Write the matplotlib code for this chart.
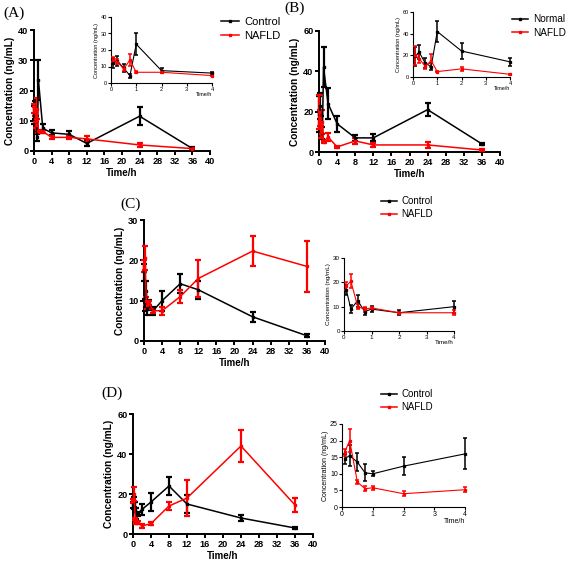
import matplotlib
matplotlib.use("Agg")
import matplotlib.pyplot as plt
from matplotlib.lines import Line2D
import numpy as np

# ---------------- data ----------------
time_h = [0.083, 0.25, 0.5, 0.75, 1, 2, 4, 8, 12, 24, 36]

a_control = [12, 13.5, 9, 4.5, 23.5, 7.5, 6, 5.5, 2.5, 11.5, 0.8]
a_control_sd = [3, 3, 2.5, 1.2, 6.5, 1.5, 0.8, 1, 1, 3, 0.4]
a_nafld = [14, 13, 8.5, 14, 6.5, 6.5, 4.5, 4.5, 4, 2, 0.8]
a_nafld_sd = [1.5, 1.5, 1, 3.5, 0.6, 0.5, 0.5, 0.6, 1, 0.6, 0.3]

b_normal = [19, 23, 13, 9.5, 42, 24, 14, 7, 7, 21, 4]
b_normal_sd = [9, 6.5, 5, 3, 10, 7.5, 4, 1.5, 1.7, 3.3, 0.4]
b_nafld = [20, 17, 10, 15, 5, 7.5, 2.5, 5.5, 3.5, 3.5, 1]
b_nafld_sd = [8.5, 4, 3, 6, 0.5, 2, 0.5, 1.5, 1, 1.5, 0.5]

c_control = [17, 9, 12.5, 8, 9, 7.5, 10, 14.2, 12.7, 6, 1.3]
c_control_sd = [2, 1.5, 2.5, 1.5, 1.2, 1, 2.5, 2.3, 2.3, 1.2, 0.4]
c_nafld = [18.5, 20.5, 10, 9, 9.5, 7.5, 7.5, 11, 15.5, 22.3, 18.5]
c_nafld_sd = [1.5, 3, 1, 1, 0.5, 0.5, 1, 1.7, 4.5, 3.7, 6.4]

d_control = [14.5, 15.5, 13.5, 10.3, 10, 12.3, 16, 24, 15, 8, 3]
d_control_sd = [1.5, 3.2, 2.7, 2.6, 0.8, 2.7, 4.7, 4.5, 4.5, 1.5, 0.3]
d_nafld = [16.5, 20, 7.5, 5.5, 5.8, 4, 5.2, 14, 18, 44, 14.5]
d_nafld_sd = [1, 3.5, 0.5, 0.7, 0.6, 0.8, 0.8, 2, 9, 8, 3.5]

main_xticks = [0, 4, 8, 12, 16, 20, 24, 28, 32, 36, 40]
inset_xticks = [0, 1, 2, 3, 4]
ylabel_text = "Concentration (ng/mL)"
xlabel_text = "Time/h"
inset_xlabel_text = "Time/h"

# ---------------- figure ----------------
W, H = 567, 562
fig = plt.figure(figsize=(W / 100, H / 100), dpi=100)
plt.rcParams['font.family'] = ['Liberation Sans', 'DejaVu Sans']

BLACK = '#000000'
RED = '#ff0000'


def add_ax(l, r, t, b):
    return fig.add_axes([l / W, 1 - b / H, (r - l) / W, (b - t) / H])


def style(ax, ymax, ystep, xticks, fs, lw, bold, ticklen):
    ax.set_xlim(0, xticks[-1])
    ax.set_ylim(0, ymax)
    ax.set_xticks(xticks)
    ax.set_yticks(np.arange(0, ymax + 0.01, ystep))
    for s in ['top', 'right']:
        ax.spines[s].set_visible(False)
    for s in ['left', 'bottom']:
        ax.spines[s].set_linewidth(lw)
    ax.tick_params(width=lw, length=ticklen, labelsize=fs, pad=1)
    for lab in ax.get_xticklabels() + ax.get_yticklabels():
        lab.set_fontweight('bold' if bold else 'normal')
    ax.patch.set_alpha(0)


def plot_series(ax, x, y, e, color, lw, elw, cap, ms, xmax=None):
    x = np.asarray(x); y = np.asarray(y); e = np.asarray(e)
    if xmax is not None:
        m = x <= xmax + 1e-9
        x, y, e = x[m], y[m], e[m]
    ax.errorbar(x, y, yerr=e, color=color, lw=lw, elinewidth=elw, capsize=cap,
                capthick=elw, marker='s', ms=ms, clip_on=False, zorder=3)


def main_panel(l, r, t, b, ymax, ystep, series):
    ax = add_ax(l, r, t, b)
    for (y, e, c) in series:
        plot_series(ax, time_h, y, e, c, 1.1, 1.6, 2.2, 2.0)
    style(ax, ymax, ystep, main_xticks, 6.6, 1.4, True, 3)
    ax.set_ylabel(ylabel_text, fontsize=7.3, fontweight='bold', labelpad=2)
    ax.set_xlabel(xlabel_text, fontsize=7.0, fontweight='bold', labelpad=2)
    return ax


def inset_panel(l, r, t, b, ymax, ystep, series, fs):
    ax = add_ax(l, r, t, b)
    for (y, e, c) in series:
        plot_series(ax, time_h, y, e, c, 0.8, 1.1, 1.5, 1.4, xmax=4)
    style(ax, ymax, ystep, inset_xticks, fs, 0.8, False, 2)
    ax.set_ylabel(ylabel_text, fontsize=fs, labelpad=1)
    ax.set_xlabel(inset_xlabel_text, fontsize=fs, loc='right', labelpad=0)
    return ax


def legend(x, y, labels, fs):
    handles = [Line2D([], [], color=BLACK, lw=1.1, marker='s', ms=2),
               Line2D([], [], color=RED, lw=1.1, marker='s', ms=2)]
    fig.legend(handles, labels, loc='upper left', bbox_to_anchor=(x / W, 1 - y / H),
               frameon=False, fontsize=fs, handlelength=1.6, handletextpad=0.5,
               labelspacing=0.35, borderaxespad=0, borderpad=0)


# Panel A
main_panel(34, 210, 30, 151, 40, 10,
           [(a_control, a_control_sd, BLACK), (a_nafld, a_nafld_sd, RED)])
inset_panel(111, 212, 17, 83, 40, 10,
            [(a_control, a_control_sd, BLACK), (a_nafld, a_nafld_sd, RED)], 4)
legend(221, 17, ["Control", "NAFLD"], 8)
fig.text(3 / W, 1 - 13 / H, "(A)", family='Liberation Serif', fontsize=11, va='center')

# Panel B
main_panel(319, 500, 31, 152, 60, 20,
           [(b_normal, b_normal_sd, BLACK), (b_nafld, b_nafld_sd, RED)])
inset_panel(413, 510, 12, 77, 60, 20,
            [(b_normal, b_normal_sd, BLACK), (b_nafld, b_nafld_sd, RED)], 4)
legend(512, 14, ["Normal", "NAFLD"], 7.2)
fig.text(284 / W, 1 - 8 / H, "(B)", family='Liberation Serif', fontsize=11, va='center')

# Panel C
main_panel(144, 325, 220, 341, 30, 10,
           [(c_control, c_control_sd, BLACK), (c_nafld, c_nafld_sd, RED)])
inset_panel(344, 454, 258, 331, 30, 10,
            [(c_control, c_control_sd, BLACK), (c_nafld, c_nafld_sd, RED)], 4.5)
legend(381, 196, ["Control", "NAFLD"], 7)
fig.text(120 / W, 1 - 204 / H, "(C)", family='Liberation Serif', fontsize=11, va='center')

# Panel D
main_panel(133, 313, 414, 534, 60, 20,
           [(d_control, d_control_sd, BLACK), (d_nafld, d_nafld_sd, RED)])
inset_panel(342, 465, 424, 507, 25, 5,
            [(d_control, d_control_sd, BLACK), (d_nafld, d_nafld_sd, RED)], 5)
legend(381, 389, ["Control", "NAFLD"], 7)
fig.text(101 / W, 1 - 393 / H, "(D)", family='Liberation Serif', fontsize=11, va='center')

fig.savefig("out.png", dpi=100, facecolor='white')
